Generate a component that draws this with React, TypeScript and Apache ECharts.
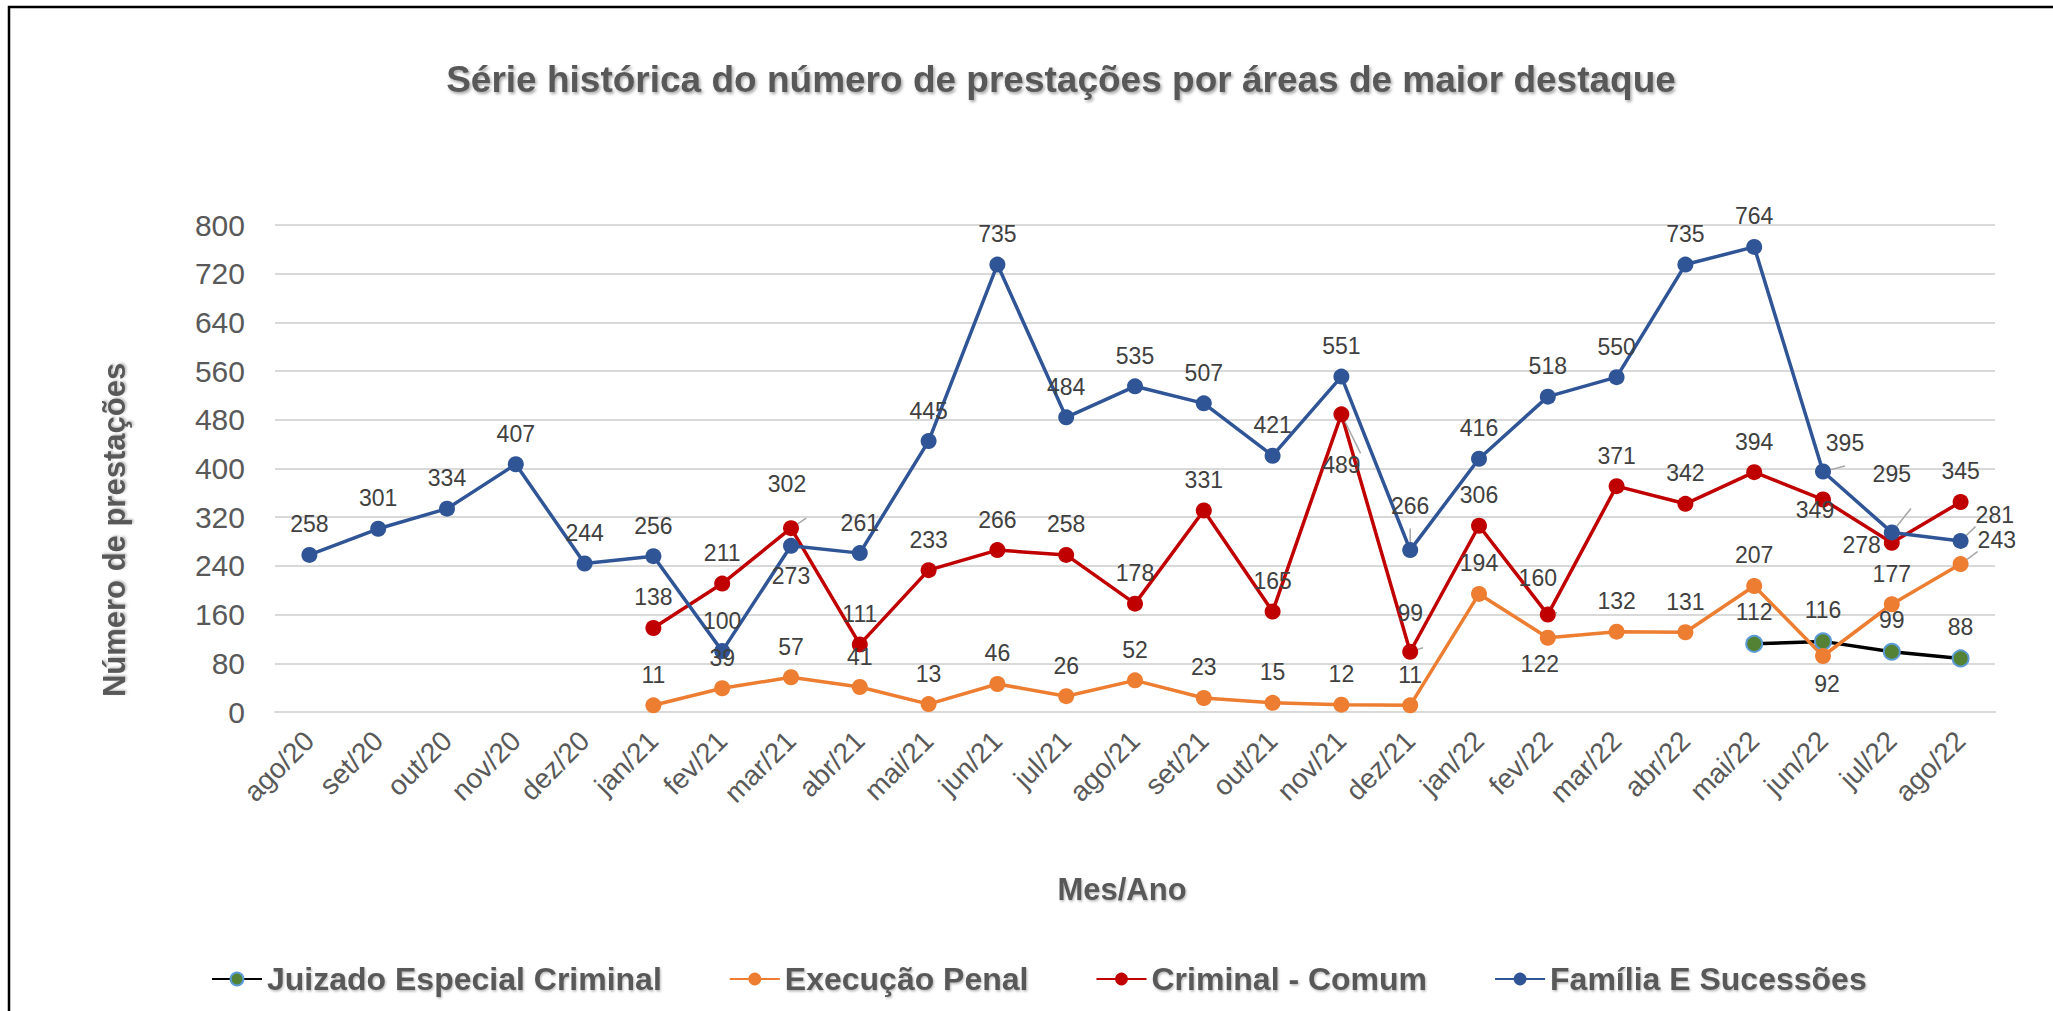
import React, { useEffect, useRef } from "react";
import * as echarts from "echarts";

const months = [
  "ago/20", "set/20", "out/20", "nov/20", "dez/20",
  "jan/21", "fev/21", "mar/21", "abr/21", "mai/21", "jun/21", "jul/21", "ago/21", "set/21", "out/21", "nov/21", "dez/21",
  "jan/22", "fev/22", "mar/22", "abr/22", "mai/22", "jun/22", "jul/22", "ago/22",
];

const yTicks = [0, 80, 160, 240, 320, 400, 480, 560, 640, 720, 800];

// Família E Sucessões: from ago/20
const familiaStart = "ago/20";
const familia = [258, 301, 334, 407, 244, 256, 100, 273, 261, 445, 735, 484, 535, 507, 421, 551, 266, 416, 518, 550, 735, 764, 395, 295, 281];

// Criminal - Comum: from jan/21
const criminalStart = "jan/21";
const criminal = [138, 211, 302, 111, 233, 266, 258, 178, 331, 165, 489, 99, 306, 160, 371, 342, 394, 349, 278, 345];

// Execução Penal: from jan/21
const execucaoStart = "jan/21";
const execucao = [11, 39, 57, 41, 13, 46, 26, 52, 23, 15, 12, 11, 194, 122, 132, 131, 207, 92, 177, 243];

// Juizado Especial Criminal: from mai/22
const juizadoStart = "mai/22";
const juizado = [112, 116, 99, 88];

const seriesNames = ["Juizado Especial Criminal", "Execução Penal", "Criminal - Comum", "Família E Sucessões"];

// label placement overrides (styling), keyed by month; guide = show a leader line
const labelOverrides: Record<string, Record<string, any>> = {
  "Família E Sucessões": {
    "mar/21": { position: "bottom" },
    "jun/22": { position: "top", offset: [22, 2], guide: true },
    "jul/22": { position: "top", offset: [0, -28], guide: true },
    "ago/22": { position: "right", offset: [-4, -26], guide: true },
    "dez/21": { position: "top", offset: [0, -14], guide: true },
  },
  "Criminal - Comum": {
    "nov/21": { position: "bottom", offset: [0, 20], guide: true },
    "jun/22": { position: "bottom", offset: [-8, -20] },
    "jul/22": { position: "left", offset: [8, 2] },
    "mar/21": { position: "top", offset: [-4, -14], guide: true },
    "dez/21": { position: "top", offset: [0, -8], guide: true },
    "fev/22": { position: "top", offset: [-10, -6], guide: true },
  },
  "Execução Penal": {
    "fev/22": { position: "bottom", offset: [-8, -4] },
    "jun/22": { position: "bottom", offset: [4, -2] },
    "ago/22": { position: "right", offset: [-2, -24], guide: true },
  },
  "Juizado Especial Criminal": {},
};

function pad(start: string, values: number[]) {
  const s = months.indexOf(start);
  return months.map((m, i) => (i >= s && i - s < values.length ? values[i - s] : null));
}

export default function App() {
  const ref = useRef<HTMLDivElement>(null);
  useEffect(() => {
    if (!ref.current) return;
    const chart = echarts.init(ref.current, undefined, { renderer: "svg" });
    const labelColor = "#404040";
    const axisColor = "#595959";
    const font = "Liberation Sans, Arial, sans-serif";

    const build = (name: string, values: (number | null)[]) =>
      values.map((v, i) => {
        if (v === null) return null;
        const ov = labelOverrides[name]?.[months[i]];
        if (!ov) return v;
        const { guide, ...lab } = ov;
        const item: any = { value: v, label: lab };
        if (guide) item.labelLine = { show: true, lineStyle: { color: "#a6a6a6", width: 1.5 } };
        return item;
      });

    const mk = (name: string, values: (number | null)[], lineColor: string, markerColor: string, borderColor: string, width: number) => ({
      name,
      type: "line",
      data: build(name, values),
      symbol: "circle",
      symbolSize: 16,
      connectNulls: false,
      lineStyle: { color: lineColor, width },
      itemStyle: { color: markerColor, borderColor, borderWidth: borderColor === markerColor ? 0 : 2 },
      label: {
        show: true,
        position: "top",
        distance: 11,
        color: labelColor,
        fontSize: 23,
        fontFamily: font,
      },
      labelLine: { show: false },
      emphasis: { disabled: true },
    });

    const shadow = {
      textShadowColor: "rgba(0,0,0,0.28)",
      textShadowBlur: 2,
      textShadowOffsetX: 1,
      textShadowOffsetY: 1.5,
    };

    chart.setOption({
      animation: false,
      backgroundColor: "#ffffff",
      legend: {
        data: seriesNames,
        left: 206,
        top: 958,
        itemWidth: 50,
        itemHeight: 16,
        itemGap: 67,
        textStyle: {
          fontFamily: font,
          fontSize: 32,
          fontWeight: "bold",
          color: "#595959",
          ...shadow,
        },
      },
      grid: { left: 275, right: 58, top: 225, bottom: 299, containLabel: false },
      xAxis: {
        type: "category",
        data: months,
        boundaryGap: true,
        axisLine: { show: true, lineStyle: { color: "#d9d9d9", width: 2 } },
        axisTick: { show: false },
        axisLabel: {
          rotate: 45,
          margin: 24,
          fontSize: 28,
          color: axisColor,
          fontFamily: font,
          interval: 0,
        },
      },
      yAxis: {
        type: "value",
        min: yTicks[0],
        max: yTicks[yTicks.length - 1],
        interval: yTicks[1] - yTicks[0],
        axisLine: { show: false },
        axisTick: { show: false },
        splitLine: { lineStyle: { color: "#d9d9d9", width: 2 } },
        axisLabel: {
          margin: 30,
          fontSize: 30,
          color: axisColor,
          fontFamily: font,
        },
      },
      graphic: [
        {
          type: "rect",
          shape: { x: 9, y: 7, width: 2100, height: 1100 },
          style: { fill: "none", stroke: "#000000", lineWidth: 2.5 },
          silent: true,
        },
        {
          type: "text",
          x: 1061,
          y: 79,
          style: {
            text: "Série histórica do número de prestações por áreas de maior destaque",
            fontFamily: font,
            fontSize: 37,
            fontWeight: "bold",
            fill: "#595959",
            align: "center",
            verticalAlign: "middle",
            textShadowColor: "rgba(0,0,0,0.35)",
            textShadowBlur: 3,
            textShadowOffsetX: 1.5,
            textShadowOffsetY: 2,
          },
        },
        {
          type: "text",
          x: 114,
          y: 530,
          rotation: Math.PI / 2,
          style: {
            text: "Número de prestações",
            fontFamily: font,
            fontSize: 31,
            fontWeight: "bold",
            fill: "#595959",
            align: "center",
            verticalAlign: "middle",
            ...shadow,
          },
        },
        {
          type: "text",
          x: 1122,
          y: 889,
          style: {
            text: "Mes/Ano",
            fontFamily: font,
            fontSize: 31,
            fontWeight: "bold",
            fill: "#595959",
            align: "center",
            verticalAlign: "middle",
            ...shadow,
          },
        },
      ],
      series: [
        mk(seriesNames[0], pad(juizadoStart, juizado), "#000000", "#548235", "#5B9BD5", 3.5),
        mk(seriesNames[1], pad(execucaoStart, execucao), "#ED7D31", "#ED7D31", "#ED7D31", 3.5),
        mk(seriesNames[2], pad(criminalStart, criminal), "#C00000", "#C00000", "#C00000", 3.5),
        mk(seriesNames[3], pad(familiaStart, familia), "#2F5597", "#2F5597", "#2F5597", 3.5),
      ],
    });
    return () => chart.dispose();
  }, []);

  return (
    <div
      ref={ref}
      style={{ position: "fixed", left: 0, top: 0, width: 2053, height: 1011, background: "#fff" }}
    />
  );
}
